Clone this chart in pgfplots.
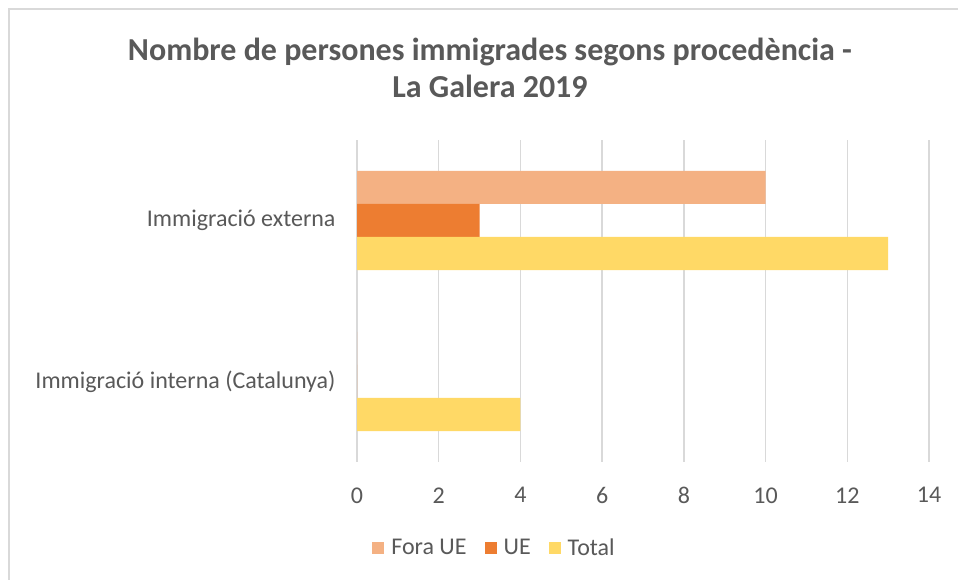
\documentclass[border=0pt]{standalone}
\usepackage{fontspec}
\setmainfont{Carlito}
\usepackage{pgfplots}
\pgfplotsset{compat=1.18}
\definecolor{foraue}{HTML}{F4B183}
\definecolor{ue}{HTML}{ED7D31}
\definecolor{total}{HTML}{FFD966}
\definecolor{txt}{HTML}{595959}
\definecolor{gridc}{HTML}{D9D9D9}
\begin{document}
\begin{tikzpicture}[x=1pt,y=1pt]
\useasboundingbox (0,0) rectangle (958,580);
\fill[white] (0,0) rectangle (958,580);
\draw[gridc, line width=1.8pt] (9,-10) -- (9,571) -- (970,571);
\node[text=txt, font=\fontsize{32}{37}\selectfont\bfseries, align=center] at (490,512) {Nombre de persones immigrades segons procedència -\\La Galera 2019};
\begin{axis}[
  at={(357pt,118pt)}, anchor=south west, scale only axis,
  width=572pt, height=322pt,
  xbar, bar width=0.205,
  xmin=0, xmax=14, ymin=-0.5, ymax=1.5,
  xtick={0,2,...,14}, ytick={0,1},
  yticklabels={Immigració interna (Catalunya), Immigració externa},
  axis line style={draw=none}, major tick length=0pt, tick style={draw=none},
  xmajorgrids, grid style={gridc, line width=1.4pt},
  /pgf/number format/assume math mode=true,
  tick label style={text=txt, font=\fontsize{24}{28}\selectfont},
  xticklabel style={yshift=-22pt},
  yticklabel style={xshift=-18pt},
  legend style={at={(0.2404,-0.267)}, anchor=center, draw=none, fill=none,
    legend columns=-1, text=txt, font=\fontsize{24}{28}\selectfont,
    /tikz/every odd column/.append style={column sep=5pt},
    /tikz/every even column/.append style={column sep=16pt}},
  legend image code/.code={\fill[#1] (0pt,-6pt) rectangle (12pt,6pt);},
]
\addplot[fill=foraue, draw=none, bar shift=0.205] coordinates {(10,1) (0,0)};
\addplot[fill=ue, draw=none, bar shift=0] coordinates {(3,1) (0,0)};
\addplot[fill=total, draw=none, bar shift=-0.205] coordinates {(13,1) (4,0)};
\legend{Fora UE, UE, Total}
\end{axis}
\end{tikzpicture}
\end{document}
